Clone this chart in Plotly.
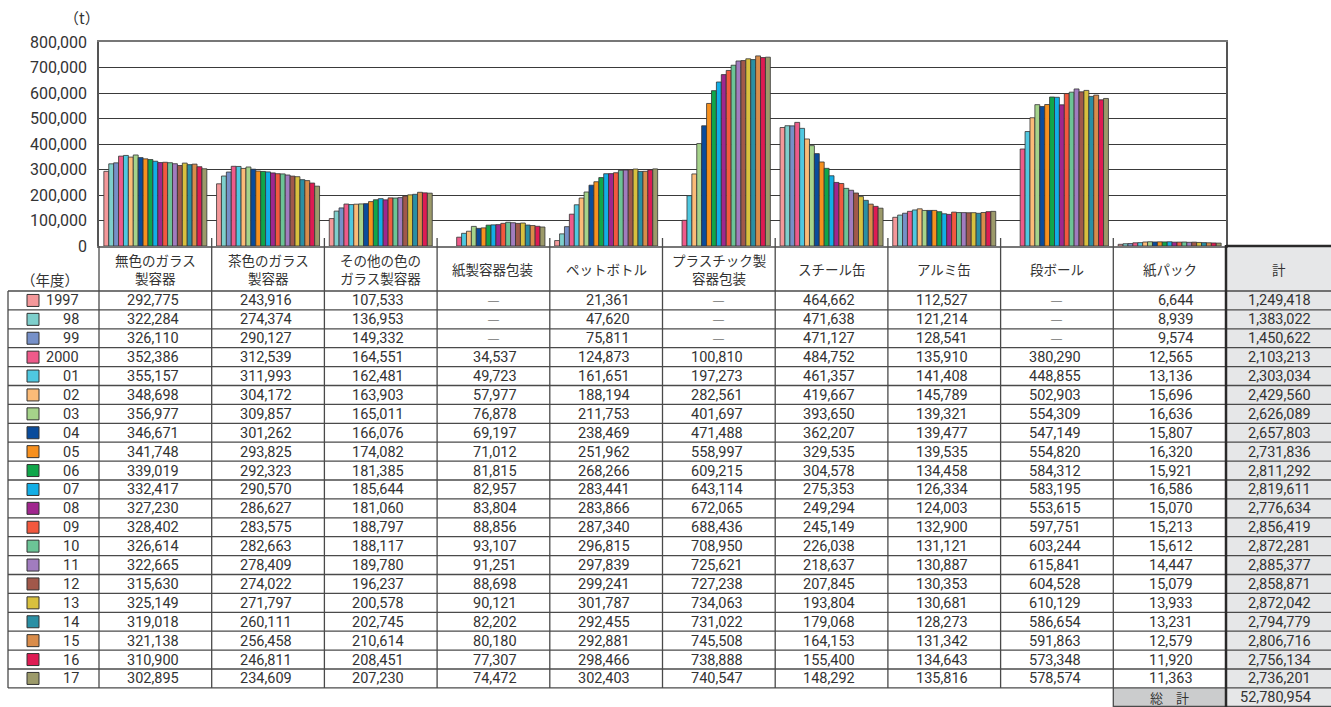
import plotly.graph_objects as go

# ---------------- data ----------------
categories = ["無色のガラス<br>製容器", "茶色のガラス<br>製容器", "その他の色の<br>ガラス製容器",
              "紙製容器包装", "ペットボトル", "プラスチック製<br>容器包装", "スチール缶",
              "アルミ缶", "段ボール", "紙パック"]
years = ["1997", "98", "99", "2000", "01", "02", "03", "04", "05", "06", "07", "08", "09",
         "10", "11", "12", "13", "14", "15", "16", "17"]
year_colors = ["#f4989a", "#7ecfcc", "#7690c8", "#ee5a8a", "#4fc8e0", "#fbbb78", "#a5d38a",
               "#0a4c9c", "#f7901e", "#10a64a", "#12aee6", "#a0268e", "#f2583e", "#6cc496",
               "#a17cbf", "#a1584a", "#d8c03e", "#2a8fa4", "#d98c4a", "#de1b53", "#9c9a6a"]

colorless_glass = [292775, 322284, 326110, 352386, 355157, 348698, 356977, 346671, 341748, 339019,
                   332417, 327230, 328402, 326614, 322665, 315630, 325149, 319018, 321138, 310900, 302895]
brown_glass = [243916, 274374, 290127, 312539, 311993, 304172, 309857, 301262, 293825, 292323,
               290570, 286627, 283575, 282663, 278409, 274022, 271797, 260111, 256458, 246811, 234609]
other_glass = [107533, 136953, 149332, 164551, 162481, 163903, 165011, 166076, 174082, 181385,
               185644, 181060, 188797, 188117, 189780, 196237, 200578, 202745, 210614, 208451, 207230]
paper_pack = [None, None, None, 34537, 49723, 57977, 76878, 69197, 71012, 81815,
              82957, 83804, 88856, 93107, 91251, 88698, 90121, 82202, 80180, 77307, 74472]
pet_bottle = [21361, 47620, 75811, 124873, 161651, 188194, 211753, 238469, 251962, 268266,
              283441, 283866, 287340, 296815, 297839, 299241, 301787, 292455, 292881, 298466, 302403]
plastic_pack = [None, None, None, 100810, 197273, 282561, 401697, 471488, 558997, 609215,
                643114, 672065, 688436, 708950, 725621, 727238, 734063, 731022, 745508, 738888, 740547]
steel_can = [464662, 471638, 471127, 484752, 461357, 419667, 393650, 362207, 329535, 304578,
             275353, 249294, 245149, 226038, 218637, 207845, 193804, 179068, 164153, 155400, 148292]
alu_can = [112527, 121214, 128541, 135910, 141408, 145789, 139321, 139477, 139535, 134458,
           126334, 124003, 132900, 131121, 130887, 130353, 130681, 128273, 131342, 134643, 135816]
cardboard = [None, None, None, 380290, 448855, 502903, 554309, 547149, 554820, 584312,
             583195, 553615, 597751, 603244, 615841, 604528, 610129, 586654, 591863, 573348, 578574]
drink_carton = [6644, 8939, 9574, 12565, 13136, 15696, 16636, 15807, 16320, 15921,
                16586, 15070, 15213, 15612, 14447, 15079, 13933, 13231, 12579, 11920, 11363]
year_totals = [1249418, 1383022, 1450622, 2103213, 2303034, 2429560, 2626089, 2657803, 2731836,
               2811292, 2819611, 2776634, 2856419, 2872281, 2885377, 2858871, 2872042, 2794779,
               2806716, 2756134, 2736201]
grand_total = 52780954

series = [colorless_glass, brown_glass, other_glass, paper_pack, pet_bottle,
          plastic_pack, steel_can, alu_can, cardboard, drink_carton]

# ---------------- geometry ----------------
W, H = 1331, 707
L, R, T, B = 99, 1226, 42, 246
col_w = (R - L) / len(categories)
hdr_bot = 291
row_h = 18.9
tbl_left = 8


def fx(px):
    return (px - L) / (R - L)


def fy(py):
    return (B - py) / (B - T)


JP = "Noto Sans CJK JP"
NUM = "Roboto, Liberation Sans, sans-serif"
TXT = "#333333"
LINE = "#4a4a4a"


def text(px, py, s, size, family, xanchor="center"):
    return dict(xref="paper", yref="paper", x=fx(px), y=fy(py), text=s, showarrow=False,
                xanchor=xanchor, yanchor="middle", font=dict(family=family, size=size, color=TXT))


fig = go.Figure()
for i, y in enumerate(years):
    fig.add_trace(go.Bar(
        x=categories, y=[s[i] for s in series], name=y,
        marker=dict(color=year_colors[i], line=dict(color="#333333", width=0.8)),
        hoverinfo="x+y+name"))

shapes = []
ann = []

n = len(years)
tbl_bot = hdr_bot + n * row_h

# gray total column and grand-total cells
shapes.append(dict(type="rect", xref="paper", yref="paper", layer="below",
                   x0=fx(R), x1=fx(W), y0=fy(B), y1=fy(H), fillcolor="#e6e7e8", line=dict(width=0)))
shapes.append(dict(type="rect", xref="paper", yref="paper", layer="below",
                   x0=fx(L + 9 * col_w), x1=fx(R), y0=fy(tbl_bot), y1=fy(H),
                   fillcolor="#cbcccd", line=dict(width=0)))

# horizontal row lines
for k in range(n + 1):
    yy = hdr_bot + k * row_h
    shapes.append(dict(type="line", xref="paper", yref="paper",
                       x0=fx(tbl_left), x1=fx(W), y0=fy(yy), y1=fy(yy),
                       line=dict(color=LINE, width=1.3)))
shapes.append(dict(type="line", xref="paper", yref="paper",
                   x0=fx(L + 9 * col_w), x1=fx(W), y0=fy(H - 0.5), y1=fy(H - 0.5),
                   line=dict(color=LINE, width=1.3)))
# vertical lines
shapes.append(dict(type="line", xref="paper", yref="paper", x0=fx(tbl_left), x1=fx(tbl_left),
                   y0=fy(hdr_bot), y1=fy(tbl_bot), line=dict(color=LINE, width=1.3)))
shapes.append(dict(type="line", xref="paper", yref="paper", x0=0, x1=0,
                   y0=fy(B), y1=fy(tbl_bot), line=dict(color=LINE, width=1.3)))
for i in range(1, len(categories)):
    xx = L + i * col_w
    yb = H if i == 9 else tbl_bot
    shapes.append(dict(type="line", xref="paper", yref="paper", x0=fx(xx), x1=fx(xx),
                       y0=fy(B - 8), y1=fy(yb), line=dict(color=LINE, width=1.3)))
# thick border of total column
shapes.append(dict(type="line", xref="paper", yref="paper", x0=1, x1=1,
                   y0=fy(B - 1), y1=fy(H), line=dict(color="#2a2a2a", width=2.5)))
shapes.append(dict(type="line", xref="paper", yref="paper", x0=1, x1=fx(W),
                   y0=fy(B), y1=fy(B), line=dict(color="#2a2a2a", width=2.5)))

# header labels
for i, c in enumerate(categories):
    ann.append(text(L + (i + 0.5) * col_w, 268.5, c, 13.5, JP))
ann.append(text((R + W) / 2, 268.5, "計", 13.5, JP))
ann.append(text(50, 279, "（年度）", 14.5, JP))
ann.append(text(82, 18, "（t）", 15, JP))

# rows
for k in range(n):
    yc = hdr_bot + (k + 0.5) * row_h
    shapes.append(dict(type="rect", xref="paper", yref="paper",
                       x0=fx(27), x1=fx(39), y0=fy(yc - 6), y1=fy(yc + 6),
                       fillcolor=year_colors[k], line=dict(color="#333333", width=1)))
    ann.append(text(81, yc + 0.5, years[k], 14.5, NUM, "right"))
    for i, s in enumerate(series):
        v = s[k]
        if v is None:
            ann.append(text(L + (i + 0.5) * col_w, yc, "―", 13, JP))
        else:
            ann.append(text(L + i * col_w + 82, yc + 0.5, f"{v:,}", 14.5, NUM, "right"))
    ann.append(text(1313, yc + 0.5, f"{year_totals[k]:,}", 14.5, NUM, "right"))

yc = (tbl_bot + H) / 2
ann.append(text(L + 9.5 * col_w, yc, "総　計", 13, JP))
ann.append(text(1313, yc + 0.5, f"{grand_total:,}", 14.5, NUM, "right"))
ann.append(dict(xref="paper", yref="paper", x=fx(tbl_left), y=fy(702),
                text="注）年度別分別収集実績量には市町村独自処理量が含まれる。",
                showarrow=False, xanchor="left", yanchor="top",
                font=dict(family=JP, size=15, color=TXT)))

fig.update_layout(
    width=W, height=H,
    margin=dict(l=L, r=W - R, t=T, b=H - B, pad=0),
    paper_bgcolor="white", plot_bgcolor="white",
    barmode="group", bargap=0.086, bargroupgap=0,
    showlegend=False,
    shapes=shapes, annotations=ann,
    xaxis=dict(showticklabels=False, showgrid=False, showline=True, mirror=True,
               linecolor="#777777", linewidth=1.5, ticks="", fixedrange=True),
    yaxis=dict(range=[0, 800000], dtick=100000, tickformat=",", showgrid=True,
               gridcolor="#3a3a3a", gridwidth=1.3, zeroline=False,
               showline=True, mirror=True, linecolor="#555555", linewidth=1.5,
               ticks="", ticklabelstandoff=7,
               tickfont=dict(family=NUM, size=16, color=TXT)),
)

fig.write_html("out.html", config={"displayModeBar": False},
               post_script="document.body.style.margin='0';document.body.style.overflow='hidden';")
